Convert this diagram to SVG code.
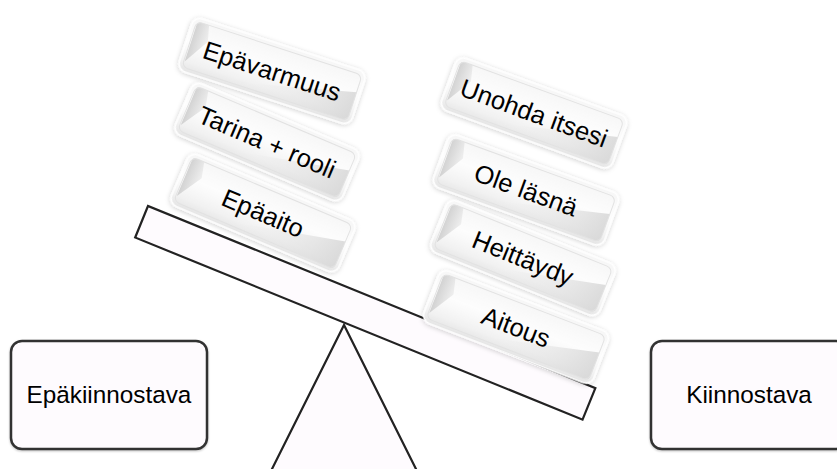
<svg xmlns="http://www.w3.org/2000/svg" width="837" height="469" viewBox="0 0 837 469">
<defs>
<style>
.solid{fill:#fefbfe;stroke:#222;stroke-width:2.2}
.box{fill:#fefbfe;stroke:#333;stroke-width:2.5}
.lbl{font-family:"Liberation Sans",Arial,sans-serif;font-size:24.3px;fill:#000;text-anchor:middle}
.clbl{font-family:"Liberation Sans",Arial,sans-serif;font-size:25.5px;fill:#000;text-anchor:middle}
.cbody{fill:url(#cardGrad);stroke:#ffffff;stroke-width:1.5}
.cedge{fill:none;stroke:#e2e2e2;stroke-width:1}
.facetL{fill:url(#facetLG)}
.facetR{fill:url(#facetRG)}
</style>
<linearGradient id="cardGrad" x1="0" y1="0" x2="0" y2="1">
<stop offset="0" stop-color="#f6f6f6"/>
<stop offset="0.45" stop-color="#fdfdfd"/>
<stop offset="0.8" stop-color="#f2f2f2"/>
<stop offset="1" stop-color="#e4e4e4"/>
</linearGradient>
<linearGradient id="facetLG" x1="0" y1="0" x2="1" y2="0">
<stop offset="0" stop-color="#c9c9c9"/>
<stop offset="1" stop-color="#ececec"/>
</linearGradient>
<linearGradient id="facetRG" x1="0" y1="0" x2="1" y2="0">
<stop offset="0" stop-color="#f4f4f4" stop-opacity="0"/>
<stop offset="1" stop-color="#d4d4d4"/>
</linearGradient>
<filter id="glow" x="-20%" y="-40%" width="140%" height="180%">
<feGaussianBlur in="SourceAlpha" stdDeviation="2.5"/>
<feOffset dx="0" dy="1" result="b"/>
<feFlood flood-color="#000" flood-opacity="0.2"/>
<feComposite in2="b" operator="in"/>
<feMerge><feMergeNode/><feMergeNode in="SourceGraphic"/></feMerge>
</filter>
<filter id="shadow" x="-10%" y="-10%" width="120%" height="130%">
<feGaussianBlur in="SourceAlpha" stdDeviation="1.2"/>
<feOffset dx="0" dy="1" result="b"/>
<feFlood flood-color="#000" flood-opacity="0.25"/>
<feComposite in2="b" operator="in"/>
<feMerge><feMergeNode/><feMergeNode in="SourceGraphic"/></feMerge>
</filter>
<g id="cardShape">
<rect class="cbody" x="-91" y="-28" width="182" height="56" rx="9" filter="url(#glow)"/>
<path class="facetL" d="M-86,-21 Q-86,-24 -82,-24 L-74,-24 L-70,-8 L-86,18 Z" opacity="0.8"/>
<path class="facetR" d="M-40,24 L82,24 Q87,24 87,19 L87,-6 Z" opacity="0.8"/>
<rect class="cedge" x="-87" y="-24" width="174" height="48" rx="6"/>
</g>
</defs>
<rect width="837" height="469" fill="#ffffff"/>

<g id="fulcrum">
<polygon class="solid" points="344,325 271,471 417,471"/>
</g>

<g id="lever">
<rect class="solid" x="0" y="0" width="483" height="34" transform="translate(148,206) rotate(22.15)"/>
</g>

<g id="left-cards">
<g id="card-epavarmuus" transform="translate(272,71) rotate(18)">
<use href="#cardShape"/>
<text class="clbl" x="0" y="9">Epävarmuus</text>
</g>
<g id="card-tarina" transform="translate(267,142) rotate(23)">
<use href="#cardShape"/>
<text class="clbl" x="0" y="9">Tarina + rooli</text>
</g>
<g id="card-epaaito" transform="translate(263,213) rotate(23)">
<use href="#cardShape"/>
<text class="clbl" x="0" y="9">Epäaito</text>
</g>
</g>

<g id="right-cards">
<g id="card-unohda" transform="translate(534,113) rotate(20)">
<use href="#cardShape"/>
<text class="clbl" x="0" y="9">Unohda itsesi</text>
</g>
<g id="card-ole" transform="translate(526,190) rotate(20)">
<use href="#cardShape"/>
<text class="clbl" x="0" y="9">Ole läsnä</text>
</g>
<g id="card-heittaydy" transform="translate(523,258) rotate(22)">
<use href="#cardShape"/>
<text class="clbl" x="0" y="9">Heittäydy</text>
</g>
<g id="card-aitous" transform="translate(516,327) rotate(21)">
<use href="#cardShape"/>
<text class="clbl" x="0" y="9">Aitous</text>
</g>
</g>

<g id="node-epakiinnostava">
<rect class="box" x="11" y="341" width="196" height="108" rx="11" filter="url(#shadow)"/>
<text class="lbl" x="109" y="403">Epäkiinnostava</text>
</g>
<g id="node-kiinnostava">
<rect class="box" x="651" y="341" width="196" height="108" rx="11" filter="url(#shadow)"/>
<text class="lbl" x="749" y="403">Kiinnostava</text>
</g>
</svg>
